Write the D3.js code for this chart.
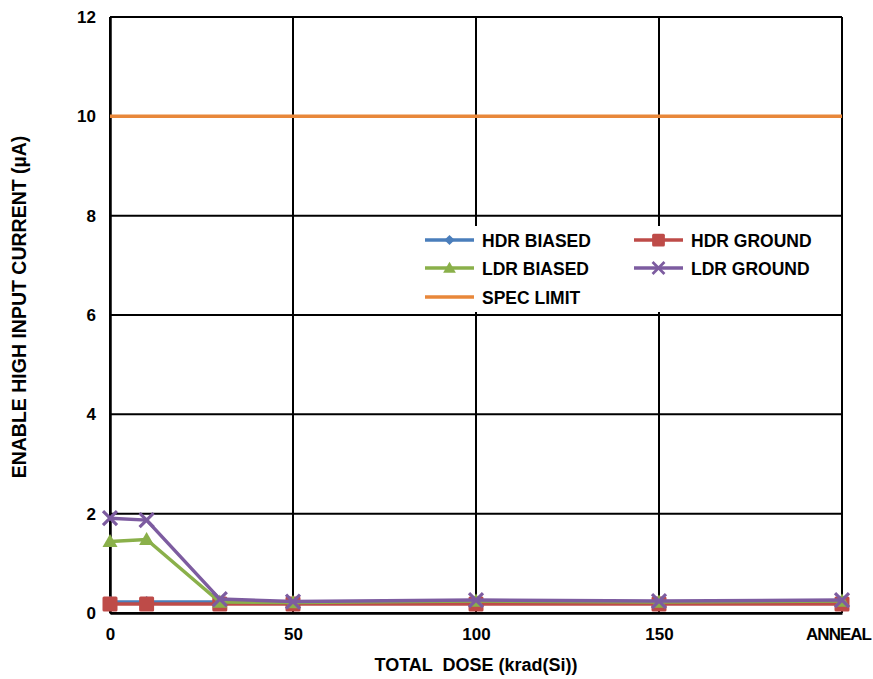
<!DOCTYPE html>
<html><head><meta charset="utf-8">
<script src="https://cdn.jsdelivr.net/npm/d3@7"></script>
<style>body{margin:0;background:#fff}svg{display:block}text{font-family:"Liberation Sans",Arial,sans-serif;font-weight:bold;fill:#000}</style>
</head><body><svg id="c" width="873" height="679"></svg>
<script>
const doses = [0, 10, 30, 50, 100, 150, 200];
const xTickValues = [0, 50, 100, 150, 200];
const xTickLabels = ["0", "50", "100", "150", "ANNEAL"];
const yTickValues = [0, 2, 4, 6, 8, 10, 12];
const hdrBiased = [0.22, 0.22, 0.22, 0.21, 0.22, 0.22, 0.22];
const hdrGround = [0.18, 0.18, 0.18, 0.18, 0.18, 0.18, 0.18];
const ldrBiased = [1.44, 1.48, 0.22, 0.21, 0.24, 0.22, 0.24];
const ldrGround = [1.91, 1.87, 0.28, 0.23, 0.26, 0.24, 0.26];
const specLimit = [10, 10];
const specX = [0, 200];

const svg = d3.select("#c");
const m = {l:110, r:842, t:17, b:613};
const x = d3.scaleLinear().domain([0,200]).range([m.l, m.r]);
const y = d3.scaleLinear().domain([0,12]).range([m.b, m.t]);

// grid
svg.append("g").selectAll("line").data(yTickValues).join("line")
  .attr("x1", m.l).attr("x2", m.r).attr("y1", d=>y(d)).attr("y2", d=>y(d))
  .attr("stroke","#000").attr("stroke-width",2);
svg.append("g").selectAll("line").data(xTickValues).join("line")
  .attr("y1", m.t).attr("y2", m.b).attr("x1", d=>x(d)).attr("x2", d=>x(d))
  .attr("stroke","#000").attr("stroke-width",2);

// axes
const yAxis = d3.axisLeft(y).tickValues(yTickValues).tickSize(0).tickPadding(14);
const gy = svg.append("g").attr("transform",`translate(${m.l},0)`).call(yAxis);
gy.select(".domain").attr("stroke","#000").attr("stroke-width",2.5);
gy.selectAll("text").style("font-size","17px").style("font-family","Liberation Sans, Arial").style("font-weight","bold");
const xAxis = d3.axisBottom(x).tickValues(xTickValues).tickFormat((d,i)=>xTickLabels[i]).tickSize(0).tickPadding(15);
const gx = svg.append("g").attr("transform",`translate(0,${m.b})`).call(xAxis);
gx.select(".domain").attr("stroke","#000").attr("stroke-width",2.5);
gx.selectAll("text").style("font-size","17px").style("font-family","Liberation Sans, Arial").style("font-weight","bold")
  .attr("dx",(d)=> d===200 ? -4 : 0).style("letter-spacing",(d)=>d===200?"-1px":"0");

// titles
svg.append("text").attr("x",476).attr("y",671).attr("text-anchor","middle").style("font-size","18px")
  .attr("xml:space","preserve").text("TOTAL  DOSE (krad(Si))");
svg.append("text").attr("transform","translate(26,307) rotate(-90)").attr("text-anchor","middle").style("font-size","19.5px")
  .text("ENABLE HIGH INPUT CURRENT (µA)");

const line = d3.line().x((d,i)=>x(doses[i])).y(d=>y(d));

// spec limit
svg.append("path").datum(specLimit).attr("d", d3.line().x((d,i)=>x(specX[i])).y(d=>y(d)))
  .attr("stroke","#E8873A").attr("stroke-width",3.5).attr("fill","none");

const series = [
  {name:"HDR BIASED", data:hdrBiased, color:"#4A7EBB", marker:"diamond"},
  {name:"HDR GROUND", data:hdrGround, color:"#BE4B48", marker:"square"},
  {name:"LDR BIASED", data:ldrBiased, color:"#8AB04A", marker:"triangle"},
  {name:"LDR GROUND", data:ldrGround, color:"#7D5CA0", marker:"x"}
];

function drawMarker(g, type, color, cx, cy, scale) {
  scale = scale||1;
  if (type==="diamond") {
    const s=6*scale;
    g.append("path").attr("d",`M${cx},${cy-s}L${cx+s},${cy}L${cx},${cy+s}L${cx-s},${cy}Z`).attr("fill",color);
  } else if (type==="square") {
    const s=7.5*scale;
    g.append("rect").attr("x",cx-s).attr("y",cy-s).attr("width",2*s).attr("height",2*s).attr("rx",1.5).attr("fill",color);
  } else if (type==="triangle") {
    const s=7.5*scale;
    g.append("path").attr("d",`M${cx},${cy-s}L${cx+s},${cy+s*0.75}L${cx-s},${cy+s*0.75}Z`).attr("fill",color);
  } else if (type==="x") {
    const s=7*scale;
    g.append("path").attr("d",`M${cx-s},${cy-s}L${cx+s},${cy+s}M${cx+s},${cy-s}L${cx-s},${cy+s}`).attr("stroke",color).attr("stroke-width",3.2*scale);
  }
}

series.forEach(s=>{
  svg.append("path").datum(s.data).attr("d",line).attr("stroke",s.color).attr("stroke-width",3.5).attr("fill","none");
  const g = svg.append("g");
  s.data.forEach((v,i)=>drawMarker(g, s.marker, s.color, x(doses[i]), y(v)));
});

// legend
const legendItems = [
  {name:"HDR BIASED", color:"#4A7EBB", marker:"diamond", lx:425, ly:240},
  {name:"HDR GROUND", color:"#BE4B48", marker:"square", lx:634, ly:240},
  {name:"LDR BIASED", color:"#8AB04A", marker:"triangle", lx:425, ly:268},
  {name:"LDR GROUND", color:"#7D5CA0", marker:"x", lx:634, ly:268},
  {name:"SPEC LIMIT", color:"#E8873A", marker:null, lx:425, ly:297}
];
const lg = svg.append("g");
lg.append("rect").attr("x",418).attr("y",226).attr("width",412).attr("height",86).attr("fill","#fff");
legendItems.forEach(it=>{
  lg.append("line").attr("x1",it.lx).attr("x2",it.lx+49).attr("y1",it.ly).attr("y2",it.ly)
    .attr("stroke",it.color).attr("stroke-width",3.5);
  if (it.marker) drawMarker(lg, it.marker, it.color, it.lx+24.5, it.ly, 0.85);
  lg.append("text").attr("x",it.lx+57).attr("y",it.ly+6.5).style("font-size","17.5px").text(it.name);
});
</script></body></html>
